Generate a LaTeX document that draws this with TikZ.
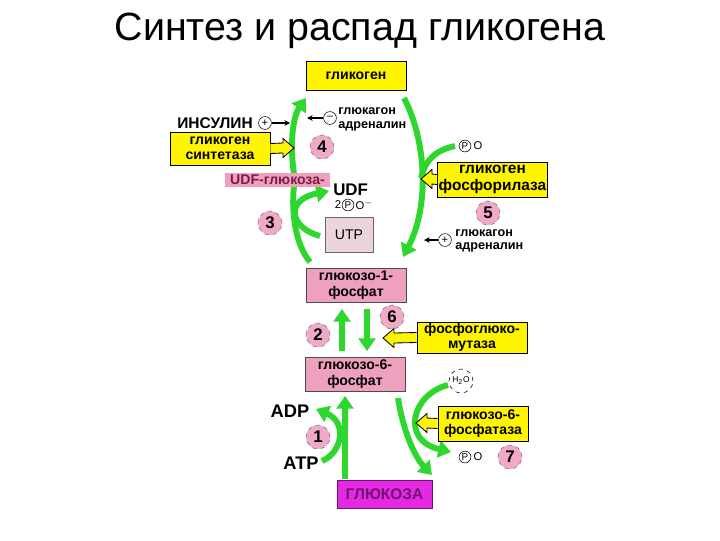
\documentclass[tikz,border=0pt]{standalone}
\usepackage{fontspec}
\setmainfont{Liberation Sans}
\usetikzlibrary{arrows.meta,backgrounds,calc}

\definecolor{leafgreen}{RGB}{45,215,45}
\definecolor{boxyellow}{RGB}{255,245,0}
\definecolor{boxpink}{RGB}{238,160,190}
\definecolor{numpink}{RGB}{240,170,200}
\definecolor{utppink}{RGB}{236,212,222}
\definecolor{glcmag}{RGB}{228,40,228}
\definecolor{glctext}{RGB}{110,20,110}
\definecolor{udftext}{RGB}{120,30,70}

\tikzset{
  ybox/.style={draw=black, fill=boxyellow, align=center, inner sep=1pt,
    font=\bfseries\fontsize{10}{11}\selectfont},
  pbox/.style={draw=black!70, fill=boxpink, align=center, inner sep=1pt,
    minimum width=2.5cm, minimum height=0.85cm, font=\bfseries\fontsize{10}{11}\selectfont},
  num/.style={circle, draw=black!55, dashed, fill=numpink, minimum size=0.6cm,
    inner sep=0pt, font=\bfseries\fontsize{12}{12}\selectfont},
  reg/.style={circle, draw, minimum size=0.32cm, inner sep=0pt, font=\fontsize{8}{8}\selectfont},
  pcirc/.style={circle, draw, inner sep=0.6pt, font=\fontsize{7}{7}\selectfont},
  hormone/.style={anchor=west, align=left, inner sep=0pt, font=\bfseries\fontsize{9}{9.5}\selectfont},
  regline/.style={line width=0.9pt, -{Stealth[length=4pt,width=4pt]}},
  gline/.style={draw=leafgreen, line width=4.2pt},
  garrow/.style={gline, -{Triangle[length=9pt,width=12pt]}},
  yblock/.style={draw=black, fill=boxyellow, line width=0.6pt, line join=miter},
}
% yellow block arrow: #1 start, #2 tip, #3 head length (sign = back from the tip)
\newcommand{\yblockarrow}[3]{%
  \path[yblock] ($(#1)+(0,-5)$) -- ($(#2)+(#3,-5)$) -- ($(#2)+(#3,-9.5)$) -- (#2)
    -- ($(#2)+(#3,9.5)$) -- ($(#2)+(#3,5)$) -- ($(#1)+(0,5)$);}

\begin{document}
\begin{tikzpicture}[x=0.025cm,y=-0.025cm]
\useasboundingbox (0,0) rectangle (720,540);

\node[font=\fontsize{28}{30}\selectfont] (title) at (360,31) {Синтез и распад гликогена};

% metabolites
\node[ybox, minimum width=2.5cm, minimum height=0.725cm] (glycogen) at (356,75.5) {гликоген};
\node[pbox] (g1p) at (356,285) {глюкозо-1-\\фосфат};
\node[pbox] (g6p) at (355,374) {глюкозо-6-\\фосфат};
\node[draw=glctext, fill=glcmag, minimum width=2.375cm, minimum height=0.7cm, text=glctext,
  font=\bfseries\fontsize{11}{11}\selectfont] (glucose) at (384.5,494) {ГЛЮКОЗА};
\node[fill=boxpink, minimum width=2.625cm, minimum height=0.35cm, inner sep=0pt, text=udftext,
  font=\bfseries\fontsize{10}{10}\selectfont] (udpglc) at (277.5,180) {UDF-глюкоза-};
\node[draw=black!60, fill=utppink, minimum width=1.2cm, minimum height=0.875cm,
  font=\fontsize{10}{10}\selectfont] (utp) at (349,234.5) {UTP};

% enzymes
\node[ybox, minimum width=2.5cm, minimum height=0.825cm] (synthase) at (220,148.5) {гликоген\\синтетаза};
\node[ybox, minimum width=2.525cm, minimum height=0.875cm, font=\bfseries\fontsize{11}{12}\selectfont] (phosphorylase) at (492.5,179.5) {гликоген\\фосфорилаза};
\node[ybox, minimum width=2.75cm, minimum height=0.725cm] (mutase) at (472,337.5) {фосфоглюко-\\мутаза};
\node[ybox, minimum width=2.25cm, minimum height=0.875cm] (g6pase) at (483,423.5) {глюкозо-6-\\фосфатаза};

% small labels
\node[anchor=west, inner sep=0pt, font=\bfseries\fontsize{12}{12}\selectfont] (udf) at (333,190) {UDF};
\node[font=\fontsize{8}{8}\selectfont] (two) at (338,205) {2};
\node[pcirc] (pudf) at (348,205) {P};
\node[anchor=west, inner sep=1pt, font=\fontsize{8}{8}\selectfont] (oudf) at (354,205) {O$^-$};
\node[pcirc] (pphos) at (465,146) {P};
\node[anchor=west, inner sep=1pt, font=\fontsize{8}{8}\selectfont] (ophos) at (472,146) {O};
\node[pcirc] (pg6p) at (465,457) {P};
\node[anchor=west, inner sep=1pt, font=\fontsize{8}{8}\selectfont] (og6p) at (472,457) {O};
\node[circle, draw, dashed, minimum size=0.6cm, inner sep=0pt, font=\fontsize{6}{6}\selectfont] (water) at (461,381) {H\textsubscript{2}O};
\node[font=\bfseries\fontsize{13}{13}\selectfont] (adp) at (290,411) {ADP};
\node[font=\bfseries\fontsize{13}{13}\selectfont] (atp) at (301,463) {ATP};

\foreach \n/\x/\y in {1/318/437, 2/318/335, 3/270/223, 4/322/147, 5/488/213, 6/392/317, 7/510/457}
  \node[num] (n\n) at (\x,\y) {\n};

% regulators
\node[font=\bfseries\fontsize{11}{11}\selectfont] (insulin) at (215,123) {ИНСУЛИН};
\node[reg] (insplus) at (265,123) {+};
\coordinate (instip) at (290,123);
\draw[regline] (insplus) -- (instip);
\node[reg] (glucminus) at (330,118) {--};
\coordinate (gluctip) at (307,118);
\draw[regline] (glucminus) -- (gluctip);
\node[hormone] (glucagon) at (338,119.5) {глюкагон\\адреналин};
\node[reg] (glucplus) at (445,240) {+};
\coordinate (glucplustip) at (424,240);
\draw[regline] (glucplus) -- (glucplustip);
\node[hormone] (glucagonb) at (455,241) {глюкагон\\адреналин};

% green pathway arrows
\begin{scope}[on background layer]
\coordinate (synA) at (294,174);  \coordinate (synB) at (306,98);
\coordinate (g1pA) at (310,262);  \coordinate (g1pB) at (294,186);
\coordinate (utpA) at (320,236);  \coordinate (utpB) at (329,191);
\coordinate (degA) at (404,98);   \coordinate (degB) at (403,257);
\coordinate (phosA) at (455,146); \coordinate (phosB) at (421,178);
\coordinate (upA) at (342,351);   \coordinate (upB) at (342,309);
\coordinate (dnA) at (367,309);   \coordinate (dnB) at (367,351);
\coordinate (hexA) at (345,479);  \coordinate (hexB) at (345,396);
\coordinate (atpA) at (322,461);  \coordinate (adpB) at (316,409);
\coordinate (g6pA) at (398,398);  \coordinate (glcB) at (432,475);
\coordinate (waterA) at (448,385);\coordinate (piB) at (451,452);

\draw[garrow] (synA) .. controls (289,140) and (294,115) .. (synB);
\draw[gline] (g1pA) .. controls (296,245) and (291,215) .. (g1pB);
\draw[garrow] (utpA) .. controls (290,228) and (284,200) .. (utpB);
\draw[garrow] (degA) .. controls (426,140) and (430,205) .. (degB);
\draw[gline] (phosA) .. controls (436,150) and (425,160) .. (phosB);
\draw[garrow] (upA) -- (upB);
\draw[garrow] (dnA) -- (dnB);
\draw[garrow] (hexA) -- (hexB);
\draw[garrow] (atpA) .. controls (343,452) and (347,422) .. (adpB);
\draw[garrow] (g6pA) .. controls (403,430) and (414,456) .. (glcB);
\draw[garrow] (waterA) .. controls (412,394) and (400,440) .. (piB);
\end{scope}

% enzyme arrows
\coordinate (syntip) at (294,148);
\coordinate (phostip) at (421,179);
\coordinate (muttip) at (383,338);
\coordinate (g6pasetip) at (416,423);
\yblockarrow{synthase.east}{syntip}{-11}
\yblockarrow{phosphorylase.west}{phostip}{11}
\yblockarrow{mutase.west}{muttip}{11}
\yblockarrow{g6pase.west}{g6pasetip}{11}
\end{tikzpicture}
\end{document}
